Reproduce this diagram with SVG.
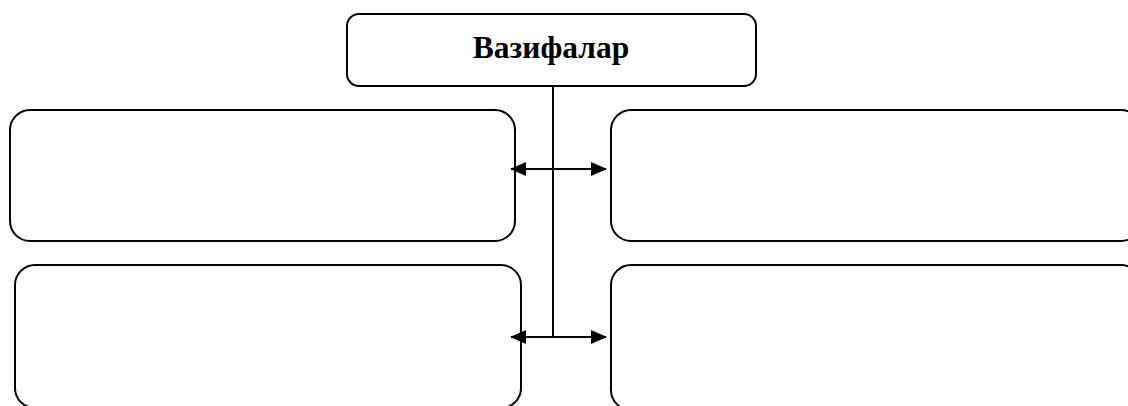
<svg xmlns="http://www.w3.org/2000/svg" width="1128" height="406" viewBox="0 0 1128 406">
<style>
.box{fill:#fff;stroke:#000;stroke-width:2}
.ln{stroke:#000;stroke-width:2;fill:none}
.t{font-family:"Liberation Serif","Times New Roman",serif;font-weight:bold;font-size:31.5px;fill:#000}
</style>
<defs>
<marker id="ah" markerWidth="16" markerHeight="14" refX="15" refY="7" orient="auto-start-reverse" markerUnits="userSpaceOnUse">
<path d="M0,0 L16,7 L0,14 Z" fill="#000"/>
</marker>
</defs>
<rect width="1128" height="406" fill="#fff"/>
<g id="n0">
<rect class="box" x="347" y="14" width="409" height="72" rx="12"/>
<text class="t" x="551" y="58" text-anchor="middle">Вазифалар</text>
</g>
<g id="n1"><rect class="box" x="10" y="110" width="505" height="131" rx="20"/></g>
<g id="n2"><rect class="box" x="611" y="110" width="530" height="131" rx="20"/></g>
<g id="n3"><rect class="box" x="15" y="265" width="506" height="143" rx="20"/></g>
<g id="n4"><rect class="box" x="611" y="265" width="530" height="145" rx="20"/></g>
<g id="connectors">
<line class="ln" x1="553" y1="86" x2="553" y2="338"/>
<line class="ln" x1="511" y1="169" x2="606" y2="169" marker-start="url(#ah)" marker-end="url(#ah)"/>
<line class="ln" x1="511" y1="337" x2="606" y2="337" marker-start="url(#ah)" marker-end="url(#ah)"/>
</g>
</svg>
